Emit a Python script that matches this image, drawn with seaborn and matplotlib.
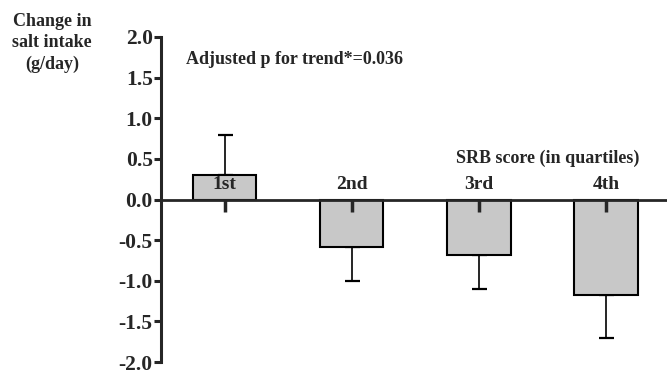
import matplotlib
matplotlib.use('Agg')
import matplotlib.pyplot as plt
import seaborn as sns
import numpy as np

# data
quartiles = ['1st', '2nd', '3rd', '4th']
change = [0.30, -0.58, -0.68, -1.18]
err_up = [0.50, 0.0, 0.0, 0.0]
err_down = [0.0, 0.42, 0.42, 0.52]
yticks = [-2.0, -1.5, -1.0, -0.5, 0.0, 0.5, 1.0, 1.5, 2.0]

sns.set_style('white')
plt.rcParams['font.family'] = ['Liberation Serif', 'DejaVu Serif']
plt.rcParams['font.weight'] = 'bold'

fig = plt.figure(figsize=(6.67, 3.76), dpi=100)
ax = fig.add_axes([161 / 667, 1 - 362 / 376, 1 - 161 / 667, (362 - 37) / 376])

sns.barplot(x=quartiles, y=change, color='#c8c8c8', edgecolor='black',
            linewidth=1.5, width=0.5, saturation=1, ax=ax, zorder=2)
ax.errorbar(np.arange(len(quartiles)), change, yerr=[err_down, err_up],
            fmt='none', ecolor='black', elinewidth=1.2, capsize=5.4,
            capthick=1.6, zorder=1)

ax.set_xlim(-0.5, 3.48)
ax.set_ylim(-2.0, 2.0)
ax.set_yticks(yticks)
ax.set_yticklabels([f'{v:.1f}' for v in yticks], fontsize=15.5, fontweight='bold')
ax.set_xticklabels([])
ax.set_xlabel('')
ax.set_ylabel('')

# ticks and zero line drawn over the bars
ax.set_axisbelow(False)
sns.despine(ax=ax)
ax.spines['bottom'].set_position(('data', 0))
ax.spines['bottom'].set_linewidth(2.0)
ax.spines['left'].set_linewidth(2.2)
ax.spines['bottom'].set_zorder(3)
ax.tick_params(axis='y', direction='out', length=5, width=2.2, left=True, pad=1)
ax.tick_params(axis='x', direction='out', length=8.5, width=2.5, bottom=True)

for i, q in enumerate(quartiles):
    ax.text(i, 0.19, q, ha='center', va='center', fontsize=14, fontweight='bold')

ax.text(2.54, 0.51, 'SRB score (in quartiles)', ha='center', va='center',
        fontsize=13, fontweight='bold')
ax.text(-0.3, 1.72, 'Adjusted p for trend*=0.036', ha='left', va='center',
        fontsize=13, fontweight='bold')

fig.text(52 / 667, 1 - 43 / 376, 'Change in\nsalt intake\n(g/day)', ha='center',
         va='center', fontsize=13, fontweight='bold', linespacing=1.35)

fig.savefig('out.png', dpi=100)
